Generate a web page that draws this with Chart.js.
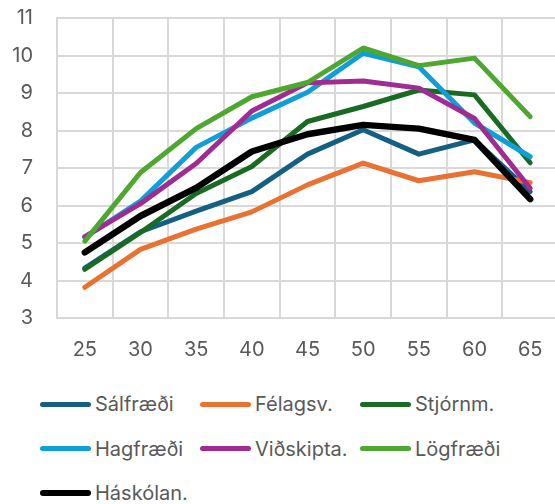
<!DOCTYPE html>
<html>
<head>
<meta charset="utf-8">
<script src="https://cdn.jsdelivr.net/npm/chart.js@4"></script>
<style>
  html, body { margin: 0; padding: 0; background: #fff; overflow: hidden; }
  #wrap { position: relative; width: 560px; height: 370px; }
  #legend {
    position: absolute; left: 40px; top: 382px;
    display: grid; grid-template-columns: 160px 160px 160px;
    row-gap: 0; font-family: Inter, "Noto Sans", sans-serif; font-size: 20px; color: #595959;
  }
  .item { display: flex; align-items: center; height: 44.5px; white-space: nowrap; }
  .swatch { width: 51px; height: 5px; border-radius: 3px; margin-right: 4px; }
</style>
</head>
<body>
<div id="wrap"><canvas id="grafico"></canvas></div>
<div id="legend"></div>
<script>
// edad (x) y valores por serie
const edades = ["25", "30", "35", "40", "45", "50", "55", "60", "65"];

const salfraedi  = [4.33, 5.30, 5.85, 6.37, 7.37, 8.02, 7.37, 7.75, 6.37];
const felagsv    = [3.82, 4.83, 5.37, 5.83, 6.55, 7.13, 6.66, 6.90, 6.61];
const stjornm    = [4.30, 5.28, 6.32, 7.04, 8.24, 8.64, 9.08, 8.95, 7.14];
const hagfraedi  = [5.15, 6.12, 7.55, 8.33, 9.02, 10.06, 9.70, 8.20, 7.30];
const vidskipta  = [5.17, 6.05, 7.12, 8.52, 9.27, 9.32, 9.13, 8.32, 6.46];
const logfraedi  = [5.05, 6.88, 8.05, 8.90, 9.28, 10.20, 9.73, 9.93, 8.37];
const haskolan   = [4.75, 5.72, 6.47, 7.44, 7.90, 8.15, 8.05, 7.75, 6.17];

const yTicks = [3, 4, 5, 6, 7, 8, 9, 10, 11];

const series = [
  { label: "Sálfræði",   data: salfraedi, color: "#156082" },
  { label: "Félagsv.",   data: felagsv,   color: "#E97132" },
  { label: "Stjórnm.",   data: stjornm,   color: "#196B24" },
  { label: "Hagfræði",   data: hagfraedi, color: "#0F9ED5" },
  { label: "Viðskipta.", data: vidskipta, color: "#A02B93" },
  { label: "Lögfræði",   data: logfraedi, color: "#4EA72E" },
  { label: "Háskólan.",  data: haskolan,  color: "#000000" },
];

const FONT = { family: "Inter, 'Noto Sans', sans-serif", size: 20 };
const GRID = "#d9d9d9";

const ctx = document.getElementById("grafico");
new Chart(ctx, {
  type: "line",
  data: {
    labels: edades,
    datasets: series.map((s, i) => ({
      label: s.label,
      data: s.data,
      borderColor: s.color,
      backgroundColor: s.color,
      borderWidth: s.color === "#000000" ? 6.5 : 5,
      borderCapStyle: "round",
      borderJoinStyle: "round",
      pointRadius: 0,
      tension: 0,
      order: series.length - i, // la ultima serie queda arriba
    })),
  },
  options: {
    responsive: true,
    maintainAspectRatio: false,
    animation: false,
    layout: { padding: { top: 18, right: 2, left: 0, bottom: 0 } },
    plugins: { legend: { display: false }, tooltip: { enabled: false } },
    scales: {
      x: {
        offset: true,
        grid: { color: GRID, lineWidth: 2, offset: true, drawTicks: false },
        border: { color: GRID, width: 2 },
        ticks: { color: "#595959", font: FONT, padding: 20, maxRotation: 0 },
        afterFit: (scale) => {
          scale.height = 52;
          scale.paddingLeft = 0;
          scale.paddingRight = 0;
        },
      },
      y: {
        min: 3,
        max: 11,
        afterBuildTicks: (scale) => { scale.ticks = yTicks.map((v) => ({ value: v })); },
        grid: { color: GRID, lineWidth: 2, drawTicks: false },
        border: { color: GRID, width: 2 },
        ticks: { color: "#595959", font: FONT, padding: 24 },
        afterFit: (scale) => {
          scale.width = 57;
          scale.paddingTop = 0;
          scale.paddingBottom = 0;
        },
      },
    },
  },
});

// leyenda en HTML (columnas fijas como en el original)
const legend = document.getElementById("legend");
series.forEach((s) => {
  const item = document.createElement("div");
  item.className = "item";
  const sw = document.createElement("span");
  sw.className = "swatch";
  sw.style.background = s.color;
  if (s.color === "#000000") sw.style.height = "6px";
  const txt = document.createElement("span");
  txt.textContent = s.label;
  item.appendChild(sw);
  item.appendChild(txt);
  legend.appendChild(item);
});
</script>
</body>
</html>
